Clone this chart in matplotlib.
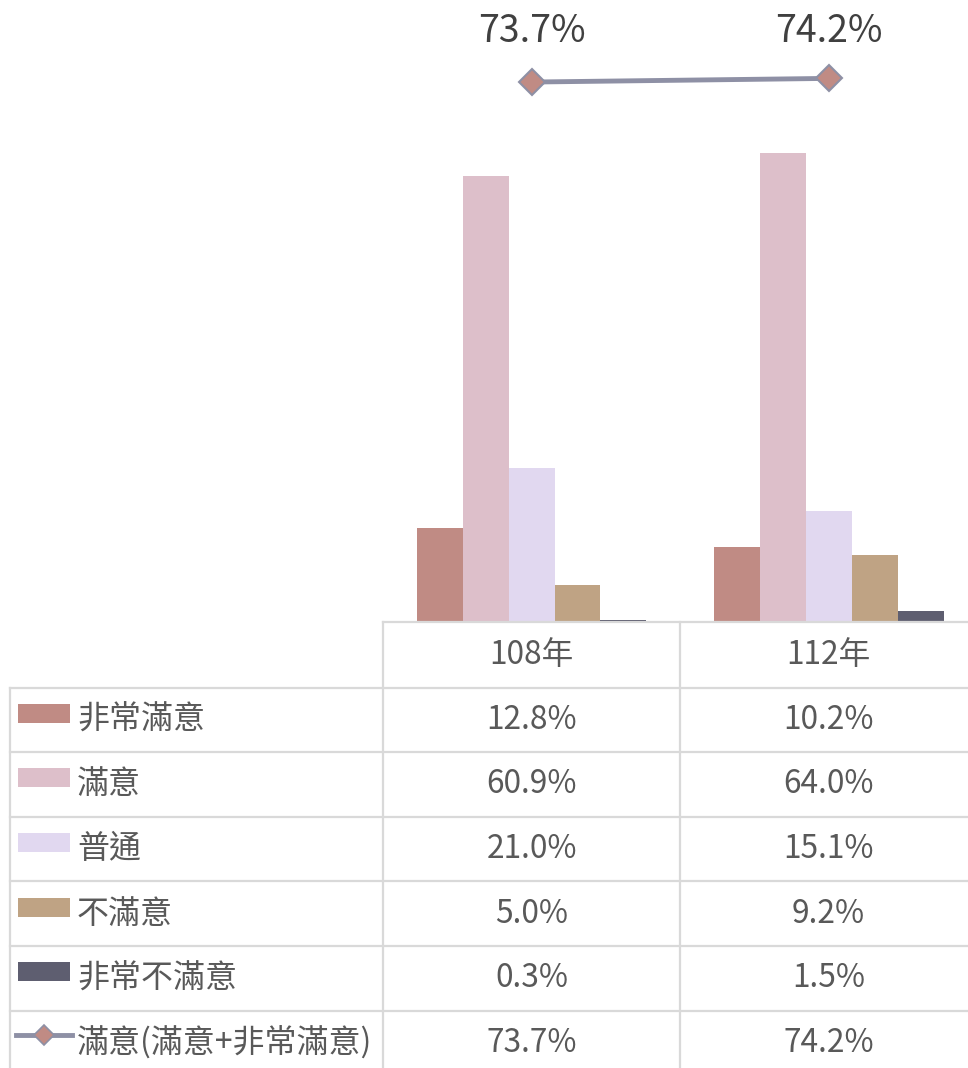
import matplotlib
matplotlib.use("Agg")
import matplotlib.pyplot as plt
from matplotlib.patches import Rectangle
from matplotlib.lines import Line2D
import matplotlib.transforms as mtransforms

plt.rcParams['font.family'] = ['Noto Sans CJK TC', 'DejaVu Sans']

# data
years = ["108年", "112年"]
series_names = ["非常滿意", "滿意", "普通", "不滿意", "非常不滿意"]
very_satisfied = [12.8, 10.2]
satisfied = [60.9, 64.0]
neutral = [21.0, 15.1]
unsatisfied = [5.0, 9.2]
very_unsatisfied = [0.3, 1.5]
total_satisfied = [73.7, 74.2]
line_name = "滿意(滿意+非常滿意)"

series = [very_satisfied, satisfied, neutral, unsatisfied, very_unsatisfied]
colors = ["#C08B84", "#DDBFCA", "#E1D8F0", "#BFA384", "#5E5E70"]
line_color = "#8E90A5"
grid_color = "#D9D9D9"
txt_color = "#595959"

W, H = 968, 1068
fig = plt.figure(figsize=(W / 100, H / 100), dpi=100)

# main chart axes, in pixel layout (axes runs past the right edge like the original)
x0, x1, ybase = 383, 977.5, 622
ax = fig.add_axes([x0 / W, (H - ybase) / H, (x1 - x0) / W, ybase / H])
ax.set_xlim(-0.5, len(years) - 0.5)
ax.set_ylim(0, 84.9)
ax.axis("off")

n = len(series)
bw = 0.1543
for k, vals in enumerate(series):
    xs = [i + (k - (n - 1) / 2) * bw for i in range(len(years))]
    ax.bar(xs, vals, width=bw, color=colors[k], linewidth=0)

ax.plot(range(len(years)), total_satisfied, color=line_color, lw=3.5,
        marker="D", ms=13, mfc=colors[0], mec=line_color, mew=1.5, zorder=5)
trans = mtransforms.blended_transform_factory(ax.transData, ax.transAxes)
for i, v in enumerate(total_satisfied):
    ax.text(i, 1 - 31 / ybase, f"{v}%", transform=trans, ha="center", va="center",
            fontsize=27, color="#404040", fontweight="light")

# data table underneath, drawn on a pixel-coordinate overlay
tb = fig.add_axes([0, 0, 1, 1])
tb.set_xlim(0, W)
tb.set_ylim(H, 0)
tb.axis("off")

col_edges = [383, 680, 977]
row_h = 64.6
head_top = 622
first_row = head_top + 65.5
lw = 1.6

# header
tb.plot([col_edges[0], W], [head_top, head_top], color=grid_color, lw=lw)
for i, y in enumerate(years):
    tb.text((col_edges[i] + col_edges[i + 1]) / 2, head_top + 33, y, ha="center", va="center",
            fontsize=22.8, color=txt_color, fontweight="light")

rows = list(zip(series_names, series, colors)) + [(line_name, total_satisfied, None)]
for r, (name, vals, c) in enumerate(rows):
    top = first_row + r * row_h
    tb.plot([10, W], [top, top], color=grid_color, lw=lw)
    cy = top + row_h / 2
    if c is not None:
        tb.add_patch(Rectangle((18, cy - 16), 52, 19, color=c, lw=0))
    else:
        tb.add_line(Line2D([16, 72], [cy - 8, cy - 8], color=line_color, lw=3.5))
        tb.plot([44], [cy - 8], marker="D", ms=10, mfc=colors[0], mec=line_color, mew=1.2)
    tb.text(77, cy, name, ha="left", va="center", fontsize=23, color=txt_color,
            fontweight="light")
    for i, v in enumerate(vals):
        tb.text((col_edges[i] + col_edges[i + 1]) / 2, cy, f"{v:.1f}%", ha="center", va="center",
                fontsize=22.8, color=txt_color, fontweight="light")

# vertical grid lines
tb.plot([10, 10], [first_row, H + 5], color=grid_color, lw=lw)
for xe in col_edges:
    tb.plot([xe, xe], [head_top, H + 5], color=grid_color, lw=lw)

fig.savefig("out.png", dpi=100)
